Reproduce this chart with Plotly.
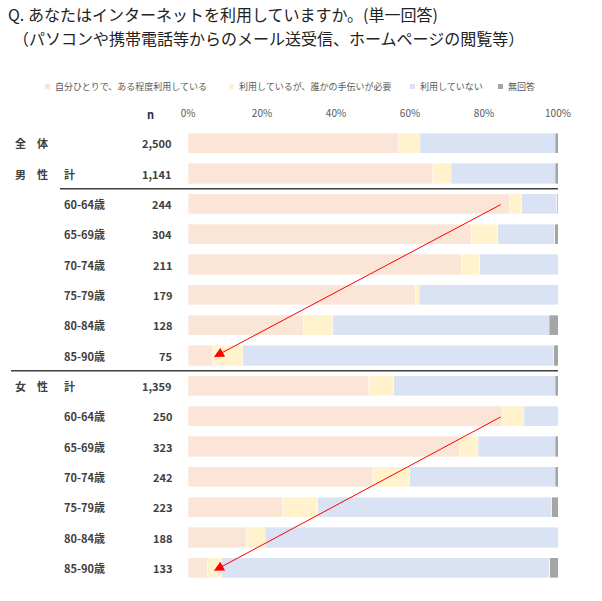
import plotly.graph_objects as go

# ---------------- data ----------------
groups = ["全　体", "男　性", "", "", "", "", "", "", "女　性", "", "", "", "", "", ""]
subs = ["", "計", "60-64歳", "65-69歳", "70-74歳", "75-79歳", "80-84歳", "85-90歳",
        "計", "60-64歳", "65-69歳", "70-74歳", "75-79歳", "80-84歳", "85-90歳"]
n_values = ["2,500", "1,141", "244", "304", "211", "179", "128", "75",
            "1,359", "250", "323", "242", "223", "188", "133"]

series_names = ["自分ひとりで、ある程度利用している", "利用しているが、誰かの手伝いが必要",
                "利用していない", "無回答"]
self_use = [56.9, 66.2, 86.9, 76.7, 74.0, 61.4, 31.3, 6.7, 48.8, 84.9, 73.4, 49.9, 25.6, 15.9, 5.3]
with_help = [5.9, 5.0, 3.3, 7.0, 4.9, 1.1, 7.8, 8.1, 6.8, 6.0, 5.0, 10.0, 9.5, 5.0, 3.8]
not_use = [36.5, 28.1, 9.4, 15.4, 21.2, 37.5, 58.6, 84.0, 43.6, 9.1, 20.8, 39.3, 63.2, 79.1, 88.7]
no_answer = [0.7, 0.7, 0.3, 0.9, 0.0, 0.0, 2.3, 1.3, 0.8, 0.0, 0.8, 0.8, 1.7, 0.0, 2.2]

tick_vals = [0, 20, 40, 60, 80, 100]
tick_text = ["0%", "20%", "40%", "60%", "80%", "100%"]

# ---------------- style ----------------
colors = ["#FBE5D6", "#FFF2CC", "#DAE3F3", "#A5A5A5"]
FONT = "Noto Sans CJK JP"
W_FIG, H_FIG = 602, 601
L, R, T, B = 188, 44, 128, 18
PW = W_FIG - L - R
PH = H_FIG - T - B


def px_x(p):
    return (p - L) / PW


def px_y(p):
    return (H_FIG - B - p) / PH


rows = list(range(len(subs)))
fig = go.Figure()
for name, vals, col in zip(series_names, [self_use, with_help, not_use, no_answer], colors):
    fig.add_trace(go.Bar(
        y=rows, x=vals, name=name, orientation="h",
        marker=dict(color=col, line=dict(color="rgba(255,255,255,0.6)", width=0.6)),
        width=0.66, showlegend=False,
        hovertemplate="%{x:.1f}%<extra>" + name + "</extra>",
    ))

annotations = []
label_font = dict(family=FONT, size=11, color="#404040", weight="bold")
for i in rows:
    if groups[i]:
        annotations.append(dict(x=px_x(13), xref="paper", y=i, yref="y", text=groups[i],
                                showarrow=False, xanchor="left", yanchor="middle", font=label_font))
    if subs[i]:
        annotations.append(dict(x=px_x(62), xref="paper", y=i, yref="y", text=subs[i],
                                showarrow=False, xanchor="left", yanchor="middle", font=label_font))
    annotations.append(dict(x=px_x(174), xref="paper", y=i, yref="y", text=n_values[i],
                            showarrow=False, xanchor="right", yanchor="middle", font=label_font))

# column header
annotations.append(dict(x=px_x(150), xref="paper", y=px_y(114), yref="paper", text="n",
                        showarrow=False, xanchor="center", yanchor="middle",
                        font=dict(family=FONT, size=11, color="#1F2F4F", weight="bold")))

# title
annotations.append(dict(x=px_x(6), xref="paper", y=px_y(14), yref="paper",
                        text="Q. あなたはインターネットを利用していますか。(単一回答)",
                        showarrow=False, xanchor="left", yanchor="middle",
                        font=dict(family=FONT, size=16, color="#222222")))
annotations.append(dict(x=px_x(11), xref="paper", y=px_y(38), yref="paper",
                        text="（パソコンや携帯電話等からのメール送受信、ホームページの閲覧等）",
                        showarrow=False, xanchor="left", yanchor="middle",
                        font=dict(family=FONT, size=16, color="#222222")))

# legend (custom, small squares)
shapes = []
legend_x = [45, 229, 410, 498]
for name, col, lx in zip(series_names, colors, legend_x):
    shapes.append(dict(type="rect", xref="paper", yref="paper",
                       x0=px_x(lx), x1=px_x(lx + 5), y0=px_y(89), y1=px_y(84),
                       fillcolor=col, line=dict(width=0)))
    annotations.append(dict(x=px_x(lx + 8), xref="paper", y=px_y(86), yref="paper", text=name,
                            showarrow=False, xanchor="left", yanchor="middle",
                            font=dict(family=FONT, size=9, color="#595959")))

# separator lines
shapes.append(dict(type="line", xref="paper", yref="y", x0=px_x(60), x1=px_x(558),
                   y0=1.5, y1=1.5, line=dict(color="#404040", width=1.5)))
shapes.append(dict(type="line", xref="paper", yref="y", x0=px_x(11), x1=px_x(558),
                   y0=7.5, y1=7.5, line=dict(color="#404040", width=1.5)))

# red arrows
for tail_y, tip_y in [(2.0, 7.05), (9.0, 14.1)]:
    annotations.append(dict(x=7.0, y=tip_y, xref="x", yref="y",
                            ax=84.9, ay=tail_y, axref="x", ayref="y",
                            text="", showarrow=True, arrowhead=2, arrowsize=2.0,
                            arrowwidth=1, arrowcolor="#FF0000", standoff=0))

fig.update_layout(
    barmode="stack",
    width=W_FIG, height=H_FIG,
    margin=dict(l=L, r=R, t=T, b=B),
    paper_bgcolor="white", plot_bgcolor="white",
    font=dict(family=FONT),
    xaxis=dict(range=[0, 100], side="top", tickvals=tick_vals, ticktext=tick_text,
               showgrid=False, zeroline=False, showline=False, ticks="",
               tickfont=dict(family=FONT, size=10, color="#595959"),
               ticklabelstandoff=8, fixedrange=True),
    yaxis=dict(range=[14.5, -0.5], visible=False, fixedrange=True),
    annotations=annotations,
    shapes=shapes,
    showlegend=False,
)

fig.write_html("out.html")
